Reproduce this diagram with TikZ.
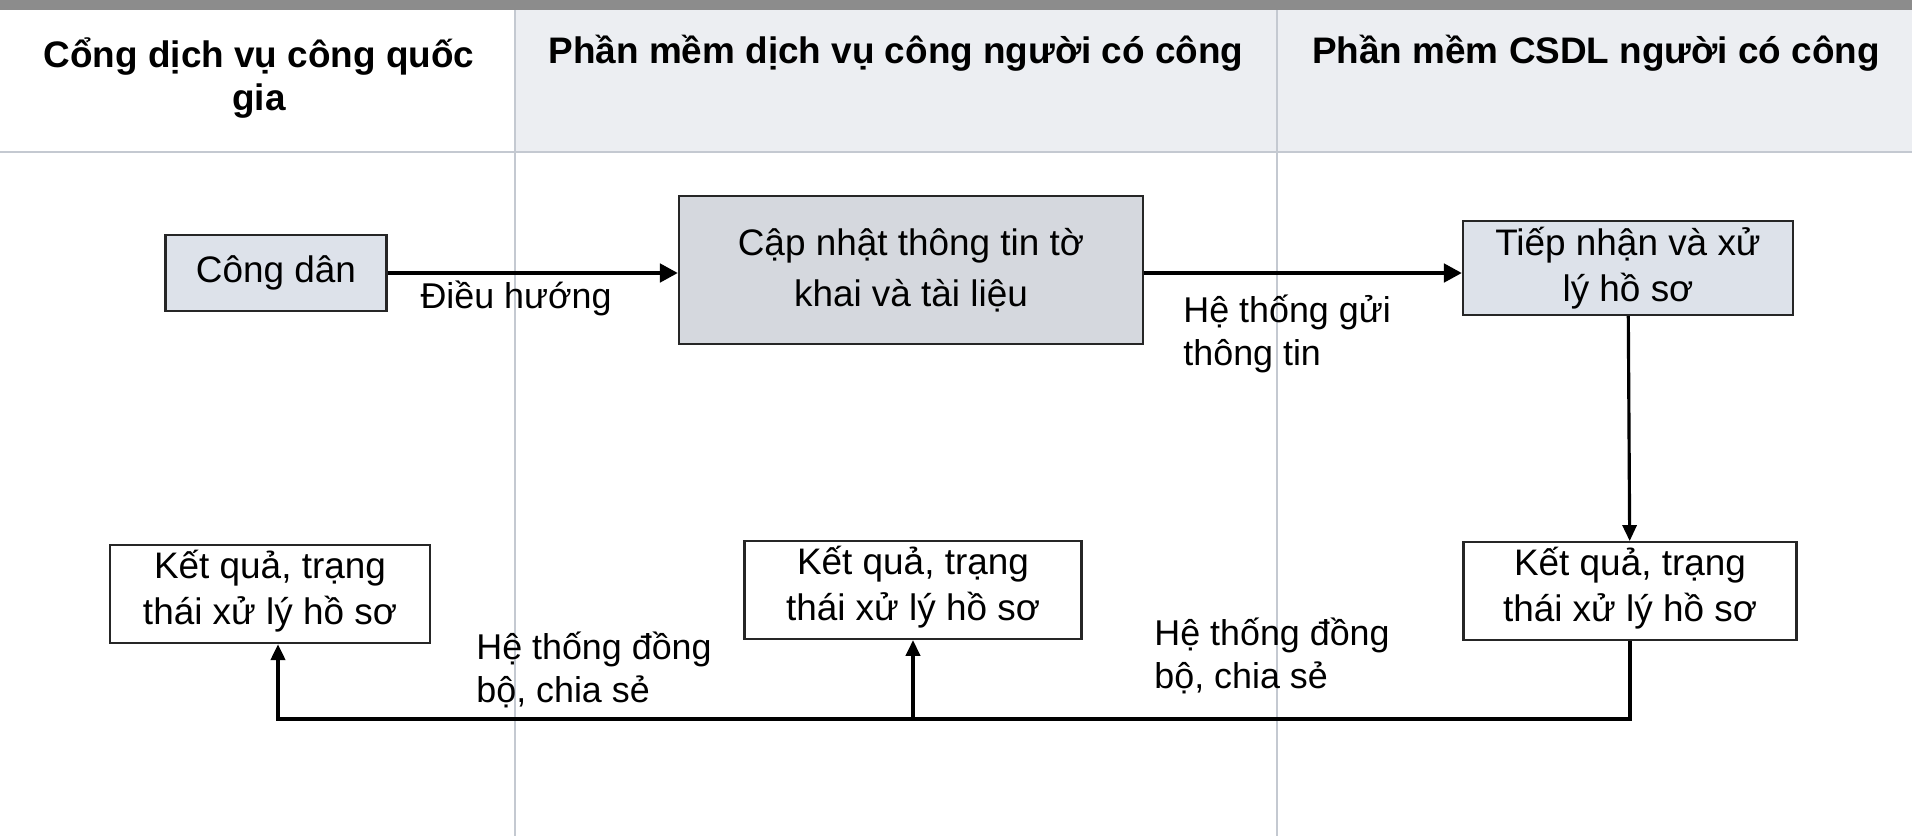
\documentclass[tikz,border=0pt]{standalone}
\usepackage{fontspec}
\setmainfont{Liberation Sans}
\usepackage{xcolor}
\usepackage{tikz}
\usetikzlibrary{positioning,calc,arrows.meta}
\definecolor{hdrfill}{HTML}{ECEEF2}
\definecolor{bandgrey}{HTML}{8C8C8C}
\definecolor{boxblue}{HTML}{DDE2EA}
\definecolor{boxgrey}{HTML}{D5D8DE}
\definecolor{laneline}{HTML}{C4C9D1}

\begin{document}
\begin{tikzpicture}[x=0.1mm,y=-0.1mm,
    hdr/.style={font=\fontsize{10.5}{12.2}\selectfont\bfseries,align=center},
    box/.style={draw=black!85,line width=0.6pt,align=center,inner sep=0.5mm,
        font=\fontsize{10.5}{13}\selectfont},
    lbl/.style={font=\fontsize{10.2}{12.2}\selectfont,align=left},
    flow/.style={line width=1.4pt,-{Triangle[length=1.8mm,width=1.8mm]}},
    sync/.style={line width=1.1pt,-{Triangle[length=1.6mm,width=1.4mm]}}]
        \useasboundingbox (0,0) rectangle (1912,836);
        % Lanes
        \fill[hdrfill] (515,10) rectangle (1912,152);
        \fill[bandgrey] (0,0) rectangle (1912,10);
        \draw[laneline,line width=0.8pt] (0,152) -- (1912,152);
        \draw[laneline,line width=0.4pt] (515,10) -- (515,836) (1277,10) -- (1277,836);
        \node[hdr] (lane1) at (259,78) {Cổng dịch vụ công quốc\\gia};
        \node[hdr] (lane2) at (896,53) {Phần mềm dịch vụ công người có công};
        \node[hdr] (lane3) at (1596,53) {Phần mềm CSDL người có công};
        % Boxes
        \node[box,fill=boxblue,minimum width=22.1mm,minimum height=7.6mm] (cd) at (276,273) {Công dân};
        \node[box,fill=boxgrey,minimum width=46.4mm,minimum height=14.8mm,
            font=\fontsize{10.5}{14.5}\selectfont] (cn) at (911,270) {Cập nhật thông tin tờ\\khai và tài liệu};
        \node[box,fill=boxblue,minimum width=33mm,minimum height=9.4mm] (tn) at (1628,268) {Tiếp nhận và xử\\lý hồ sơ};
        \node[box,fill=white,minimum width=32mm,minimum height=9.8mm] (kq1) at (270,594) {Kết quả, trạng\\thái xử lý hồ sơ\strut};
        \node[box,fill=white,minimum width=33.7mm,minimum height=9.1mm] (kq2) at (913,590) {Kết quả, trạng\\thái xử lý hồ sơ\strut};
        \node[box,fill=white,minimum width=33.3mm,minimum height=9.4mm] (kq3) at (1630,591) {Kết quả, trạng\\thái xử lý hồ sơ\strut};
        \coordinate (bus) at (0,719);
        % Arrows
        \draw[flow] (cd.east) -- (cd.east -| cn.west);
        \draw[flow] (cn.east |- cd.east) -- (cd.east -| tn.west);
        \draw[sync,line width=0.9pt] (tn) -- (kq3);
        \draw[sync] (kq3.south) |- ($(kq1.south |- bus)+(8,0)$) -- ($(kq1.south)+(8,0)$);
        \draw[sync] (kq2.south |- bus) -- (kq2.south);
        % Labels
        \node[lbl] (dh) at (516,298) {Điều hướng};
        \node[lbl,anchor=west] (gui) at (1171,334) {Hệ thống gửi\\thông tin};
        \node[lbl,anchor=west] (db1) at (464,670) {Hệ thống đồng\\bộ, chia sẻ};
        \node[lbl,anchor=west] (db2) at (1142,656) {Hệ thống đồng\\bộ, chia sẻ};
    \end{tikzpicture}
\end{document}
